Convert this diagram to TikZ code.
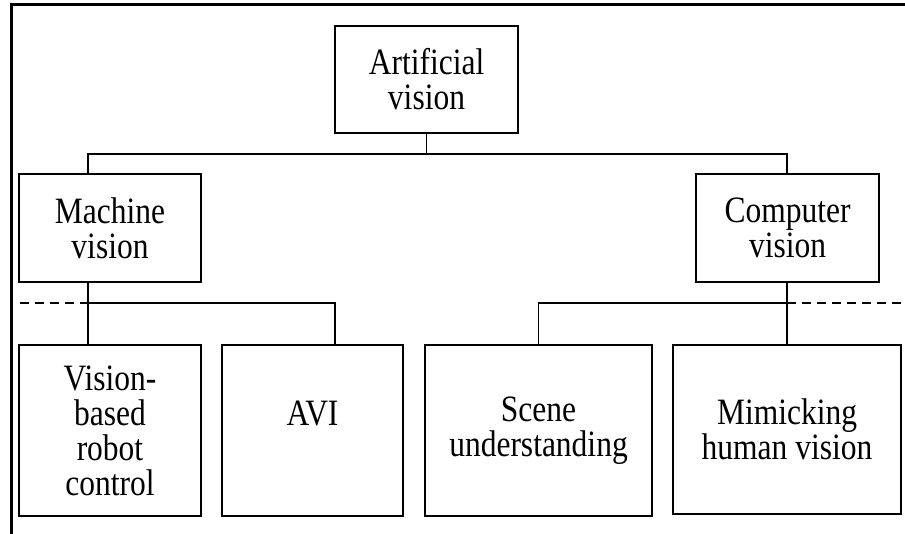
\documentclass[tikz,border=0pt]{standalone}
\usepackage{fontspec}
\setmainfont{Liberation Serif}
\newcommand{\tl}[1]{\scalebox{1}[1.18]{#1}}
\begin{document}
\begin{tikzpicture}[x=1pt,y=-1pt,
  box/.style={draw=black,line width=2pt,inner sep=0pt,align=center,
    font=\fontsize{31.5}{35}\selectfont},
  conn/.style={draw=black,line width=1.6pt},
  dashline/.style={draw=black,line width=1.6pt,dash pattern=on 9pt off 6pt},
  frame/.style={draw=black,line width=3pt}]
\useasboundingbox[fill=white] (0,0) rectangle (905,534);
\draw[frame] (11,534) -- (11,5) -- (905,5);
% nodes
\node[box,minimum width=183pt,minimum height=107pt] (av) at (426.5,79.5) {\tl{Artificial}\\\tl{vision}};
\node[box,minimum width=182pt,minimum height=108pt] (mv) at (110,228) {\tl{Machine}\\\tl{vision}};
\node[box,minimum width=183pt,minimum height=108pt] (cv) at (787.5,228) {\tl{Computer}\\\tl{vision}};
\node[box,minimum width=182pt,minimum height=171pt] (vb) at (110,430.5) {\tl{Vision-}\\\tl{based}\\\tl{robot}\\\tl{control}};
\node[box,minimum width=181pt,minimum height=171pt] (avi) at (312.5,430.5) {\tl{AVI}\\\mbox{}};
\node[box,minimum width=227pt,minimum height=171pt] (su) at (538.5,430.5) {\tl{Scene}\\\tl{understanding}};
\node[box,minimum width=228pt,minimum height=169pt] (mh) at (787,429.5) {\tl{Mimicking}\\\tl{human vision}};
% junctions
\coordinate (top) at (426.5,154);
\coordinate (j1) at (88,303);
\coordinate (j2) at (787,303);
\coordinate (aviin) at (335,303);
\coordinate (dl) at (20,303);
\coordinate (dr) at (905,303);
% connectors
\draw[conn] (av.south) -- (top);
\draw[conn] (top) -| (j1 |- mv.north);
\draw[conn] (top) -| (j2 |- cv.north);
\draw[conn] (j1 |- mv.south) -- (j1 |- vb.north);
\draw[conn] (j1) -| (aviin |- avi.north);
\draw[conn] (j2 |- cv.south) -- (j2 |- mh.north);
\draw[conn] (j2) -| (su.north);
\draw[dashline] (dl) -- (j1);
\draw[dashline] (j2) -- (dr);
\end{tikzpicture}
\end{document}
